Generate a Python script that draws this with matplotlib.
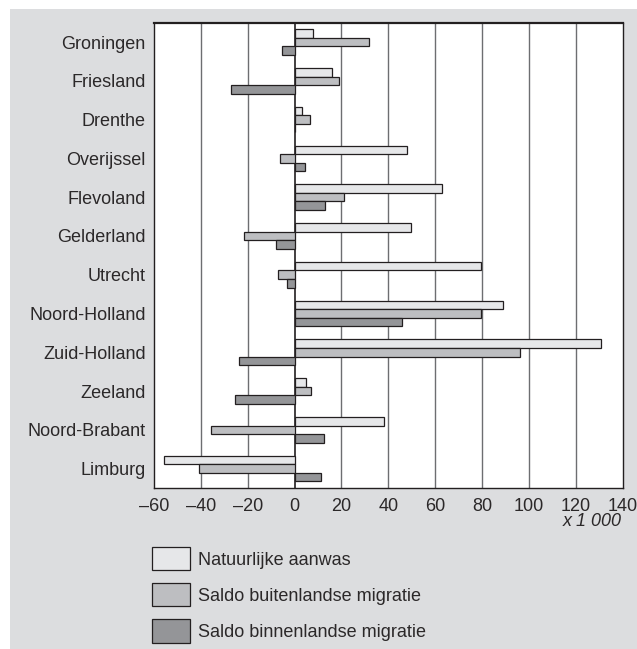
import numpy as np
import matplotlib
matplotlib.use("Agg")
import matplotlib.pyplot as plt
from matplotlib.patches import Rectangle

plt.rcParams['font.family'] = ['Liberation Sans', 'DejaVu Sans']

# data (x 1 000)
provinces = ['Groningen', 'Friesland', 'Drenthe', 'Overijssel', 'Flevoland',
             'Gelderland', 'Utrecht', 'Noord-Holland', 'Zuid-Holland',
             'Zeeland', 'Noord-Brabant', 'Limburg']
natuurlijke_aanwas = [7.8, 16.2, 3.0, 47.9, 62.8, 49.6, 79.5, 88.9, 130.9, 5.0, 38.2, -55.6]
saldo_buitenland = [31.8, 19.1, 6.8, -6.4, 20.9, -21.4, -7.0, 79.5, 96.4, 7.0, -35.5, -40.9]
saldo_binnenland = [-5.3, -27.2, 0.0, 4.3, 12.8, -7.8, -3.3, 45.9, -23.8, -25.4, 12.5, 11.1]
series_names = ['Natuurlijke aanwas', 'Saldo buitenlandse migratie', 'Saldo binnenlandse migratie']
x_ticks = [-60, -40, -20, 0, 20, 40, 60, 80, 100, 120, 140]

colors = ['#e6e7e9', '#bdbec1', '#949598']
edge = '#231f20'
bg = '#dcdddf'
fs = 13

fig = plt.figure(figsize=(6.37, 6.49), dpi=100)
fig.patch.set_facecolor('white')
# grey panel behind everything
fig.add_artist(Rectangle((10 / 637, 0), 1, (649 - 9) / 649, transform=fig.transFigure,
                         facecolor=bg, edgecolor='none', zorder=-10))

ax = fig.add_axes([154 / 637, (649 - 488) / 649, (622.5 - 154) / 637, (488 - 22.7) / 649])
ax.set_facecolor('white')

y = np.arange(len(provinces))
h = 0.22
handles = []
for i, vals in enumerate([natuurlijke_aanwas, saldo_buitenland, saldo_binnenland]):
    b = ax.barh(y + (i - 1) * h, vals, height=h, color=colors[i], edgecolor=edge,
                linewidth=0.9, zorder=3, label=series_names[i])
    handles.append(b)

ax.set_xlim(-60, 140)
ax.set_ylim(len(provinces) - 0.5, -0.5)
ax.set_xticks(x_ticks)
ax.set_xticklabels([str(t).replace('-', '\u2013') for t in x_ticks])
ax.set_yticks(y)
ax.set_yticklabels(provinces)
ax.tick_params(axis='both', length=0, labelsize=fs, colors='#2b2829')
ax.tick_params(axis='x', pad=7)
ax.tick_params(axis='y', pad=6)

for t in x_ticks[1:-1]:
    ax.axvline(t, color='#231f20' if t == 0 else '#6d6e71',
               linewidth=1.2 if t == 0 else 1.0, zorder=1)

for s in ax.spines.values():
    s.set_color(edge)
    s.set_linewidth(1.0)
ax.spines['top'].set_linewidth(1.6)

fig.text(622 / 637, (649 - 522) / 649, 'x 1 000', ha='right', va='center',
         fontsize=fs, style='italic', color='#2b2829')

fig.legend(handles=handles, labels=series_names, loc='upper left',
           bbox_to_anchor=(152 / 637, (649 - 547) / 649), frameon=False,
           fontsize=fs, handlelength=2.1, handleheight=1.6,
           handletextpad=0.45, labelspacing=0.72, borderpad=0, borderaxespad=0,
           labelcolor='#2b2829')

fig.savefig('out.png', dpi=100, facecolor=fig.get_facecolor())
